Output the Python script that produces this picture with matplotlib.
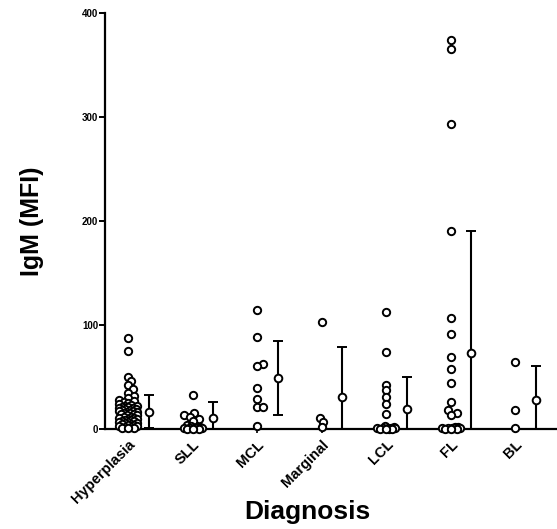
import matplotlib
matplotlib.use('Agg')
import matplotlib.pyplot as plt
import numpy as np

plt.rcParams['font.family'] = ['Liberation Sans', 'DejaVu Sans']
plt.rcParams['font.weight'] = 'bold'

# categorias e valores
categories = ['Hyperplasia', 'SLL', 'MCL', 'Marginal', 'LCL', 'FL', 'BL']

hyperplasia = [87, 75, 50, 46, 42, 38, 35, 32, 30, 28, 27, 26, 25, 24, 23, 22, 22,
               21, 21, 20, 20, 19, 19, 18, 18, 17, 17, 16, 16, 15, 15, 14, 14, 13,
               13, 12, 12, 11, 11, 10, 10, 9, 9, 8, 8, 7, 7, 6, 6, 5, 5, 4, 4, 3,
               3, 2, 2, 1, 1, 0.5]
sll = [32.5, 15.5, 13, 12, 10, 8, 4, 2.5, 2, 1.5, 1.2, 1, 0.8, 0.6, 0.5, 0.4, 0.3, 0.2]
mcl = [114, 88.8, 62.5, 60.5, 39, 29, 21.5, 21.5, 3]
marginal = [103, 11, 6.7, 2]
lcl = [112, 74, 42.5, 37.5, 31, 24.5, 14.5, 2.5, 1.5, 1.2, 1, 0.8, 0.6, 0.5, 0.4,
       0.3, 0.2, 0.1]
fl = [374, 365, 293, 190, 106.5, 91, 69, 57.5, 44, 26, 18, 15.5, 13.5, 2, 1.5, 1.2,
      1, 0.8, 0.6, 0.5, 0.4, 0.3, 0.2]
bl = [64.7, 18, 1.3]

groups = [hyperplasia, sll, mcl, marginal, lcl, fl, bl]

# média e desvio padrão (coluna ao lado de cada grupo)
bar_mean = [16.7, 10.2, 48.8, 30.8, 19.2, 72.8, 28.0]
bar_sd = [15.7, 15.5, 35.7, 47.8, 30.8, 117.5, 33.0]

fig = plt.figure(figsize=(5.57, 5.29), dpi=100)
ax = fig.add_axes([0.1885, 0.189, 0.8115, 0.787])
ax.set_xlim(-0.36, 6.65)
ax.set_ylim(0, 400)

# escala em pixels para espalhar os pontos (estilo "scatter dot plot")
px_x = 0.8115 * 557 / (6.65 + 0.36)
px_y = 0.787 * 529 / 400.0


def swarm_offsets(vals, min_dist=5.0, step=1.5, max_off=9.0):
    order = np.argsort(vals)
    placed = []
    offs = np.zeros(len(vals))
    cands = [0.0]
    k = 1
    while k * step <= max_off:
        cands += [k * step, -k * step]
        k += 1
    for i in order:
        y = vals[i] * px_y
        best, best_d = 0.0, -1
        for c in cands:
            d = min([np.hypot(c - px, y - py) for px, py in placed] or [1e9])
            if d >= min_dist:
                best = c
                break
            if d > best_d:
                best, best_d = c, d
        placed.append((best, y))
        offs[i] = best / px_x
    return offs


bar_shift = 0.32
for i, vals in enumerate(groups):
    vals = np.array(vals, dtype=float)
    xs = i + swarm_offsets(vals)
    ax.scatter(xs, vals, s=28, facecolors='white', edgecolors='black',
               linewidths=1.4, zorder=3, clip_on=False)
    ax.errorbar(i + bar_shift, bar_mean[i], yerr=bar_sd[i], fmt='o', ms=5.5,
                mfc='white', mec='black', mew=1.4, ecolor='black', elinewidth=1.5,
                capsize=3.5, capthick=1.5, zorder=4)

for side in ['top', 'right']:
    ax.spines[side].set_visible(False)
for side in ['left', 'bottom']:
    ax.spines[side].set_linewidth(1.6)

ax.set_yticks([0, 100, 200, 300, 400])
ax.set_xticks(range(len(categories)))
ax.set_xticklabels(categories, rotation=45, ha='right', rotation_mode='anchor',
                   fontsize=10.5, fontweight='bold')
ax.tick_params(axis='y', labelsize=7, length=4, width=1.4, pad=1)
ax.tick_params(axis='x', length=3, width=1.2, pad=3)
for lab in ax.get_yticklabels():
    lab.set_fontweight('bold')

ax.set_ylabel('IgM (MFI)', fontsize=18, fontweight='bold', labelpad=27)
ax.set_xlabel('Diagnosis', fontsize=19, fontweight='bold', va='center')
ax.xaxis.set_label_coords(0.447, -0.2)

plt.savefig('out.png', dpi=100)
plt.close()
